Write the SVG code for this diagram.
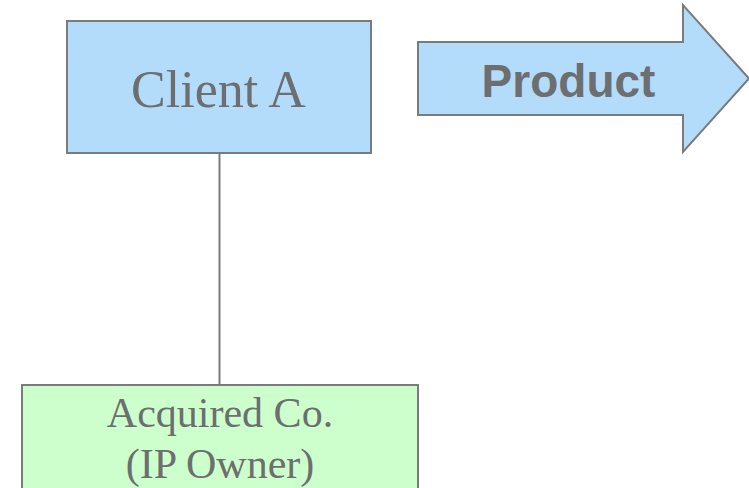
<svg xmlns="http://www.w3.org/2000/svg" width="749" height="488" viewBox="0 0 749 488">
<style>
.box{stroke:#7a7b7d;stroke-width:2}
.serif{font-family:"Liberation Serif","Times New Roman",serif;fill:#6d6e70;text-anchor:middle}
.sans{font-family:"Liberation Sans",Arial,sans-serif;font-weight:bold;fill:#6d6e70;text-anchor:middle}
</style>
<rect width="749" height="488" fill="#ffffff"/>
<g id="connectors">
<line x1="219.5" y1="153" x2="219.5" y2="385" stroke="#7a7b7d" stroke-width="2"/>
</g>
<g id="client-a">
<rect class="box" x="67" y="21" width="304" height="132" fill="#b3dcfa"/>
<text class="serif" x="218.5" y="107" font-size="52">Client A</text>
</g>
<g id="product">
<polygon class="box" points="418,42 683,42 683,5 749,78.5 683,152 683,115 418,115" fill="#b3dcfa" stroke-linejoin="miter"/>
<text class="sans" x="568.5" y="97" font-size="46">Product</text>
</g>
<g id="acquired-co">
<rect class="box" x="22" y="385" width="396" height="120" fill="#ccffcc"/>
<text class="serif" x="220" y="427" font-size="42">Acquired Co.</text>
<text class="serif" x="220" y="478" font-size="42">(IP Owner)</text>
</g>
</svg>
